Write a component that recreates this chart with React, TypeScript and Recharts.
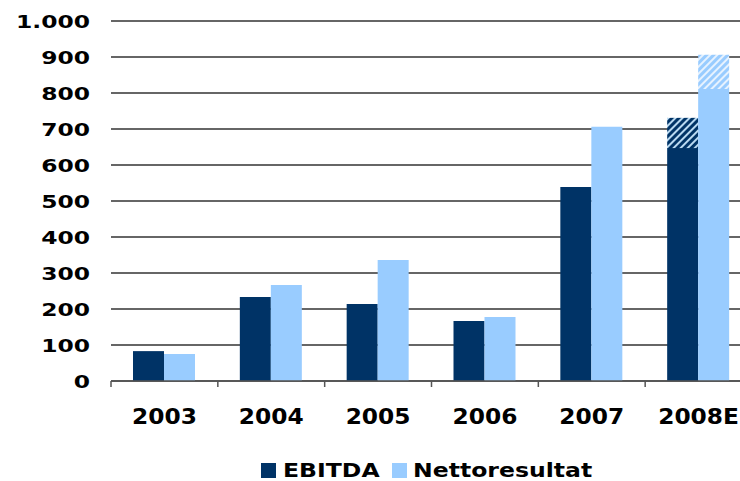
import { BarChart, Bar, XAxis, YAxis, CartesianGrid, Legend } from "recharts";

const years = ["2003", "2004", "2005", "2006", "2007", "2008E"];
const ebitda = [83, 233, 214, 167, 539, 647];
const ebitdaEstimate = [0, 0, 0, 0, 0, 84];
const netto = [75, 267, 336, 178, 706, 811];
const nettoEstimate = [0, 0, 0, 0, 0, 95];
const yTicks = [0, 100, 200, 300, 400, 500, 600, 700, 800, 900, 1000];

const NAVY = "#003366";
const LIGHT = "#99CCFF";
const FONT = "Verdana, 'DejaVu Sans', sans-serif";

const data = years.map((year, i) => ({
  year,
  ebitda: ebitda[i],
  ebitdaEstimate: ebitdaEstimate[i],
  netto: netto[i],
  nettoEstimate: nettoEstimate[i],
}));

const fmt = (v: number) => String(v).replace(/\B(?=(\d{3})+(?!\d))/g, ".");

const YTick = (props: any) => {
  const { x, y, payload } = props;
  return (
    <g transform={`translate(${x - 21},${y}) scale(1.3,1)`}>
      <text x={0} y={6.5} textAnchor="end" fontFamily={FONT} fontWeight="bold" fontSize={18} fill="#000">
        {fmt(payload.value)}
      </text>
    </g>
  );
};

const XTick = (props: any) => {
  const { x, y, payload, index, visibleTicksCount } = props;
  const off = payload.offset || 53;
  const last = index === visibleTicksCount - 1;
  return (
    <g>
      <line x1={x - off} x2={x - off} y1={y} y2={y + 6} stroke="#555" strokeWidth={1.5} />
      {last && <line x1={x + off} x2={x + off} y1={y} y2={y + 6} stroke="#555" strokeWidth={1.5} />}
      <g transform={`translate(${x},${y + 43}) scale(1.06,1)`}>
        <text x={0} y={0} textAnchor="middle" fontFamily={FONT} fontWeight="bold" fontSize={22} fill="#000">
          {payload.value}
        </text>
      </g>
    </g>
  );
};

const LegendBox = () => (
  <div style={{ height: 30 }}>
    <svg width={740} height={30}>
      <rect x={261} y={12} width={15} height={15} fill={NAVY} />
      <g transform="translate(283,26) scale(1.24,1)">
        <text fontFamily={FONT} fontWeight="bold" fontSize={19} fill="#000">EBITDA</text>
      </g>
      <rect x={392} y={12} width={15} height={15} fill={LIGHT} />
      <g transform="translate(413,26) scale(1.24,1)">
        <text fontFamily={FONT} fontWeight="bold" fontSize={19} fill="#000">Nettoresultat</text>
      </g>
    </svg>
  </div>
);

export default function App() {
  return (
    <div style={{ position: "absolute", left: 0, top: 0, width: 740, height: 481, overflow: "hidden", background: "#fff" }}>
      <BarChart
        width={752}
        height={481}
        data={data}
        margin={{ top: 21, right: 0, bottom: 0, left: 0 }}
        barGap={0}
        barSize={31}
      >
        <defs>
          <pattern id="hatchDark" patternUnits="userSpaceOnUse" width={5} height={5} patternTransform="rotate(45)">
            <rect width={5} height={5} fill={NAVY} />
            <rect width={2} height={5} fill="#b8d8f0" />
          </pattern>
          <pattern id="hatchLight" patternUnits="userSpaceOnUse" width={5} height={5} patternTransform="rotate(45)">
            <rect width={5} height={5} fill={LIGHT} />
            <rect width={2} height={5} fill="#e6f2ff" />
          </pattern>
        </defs>
        <CartesianGrid vertical={false} stroke="#333" strokeWidth={1.5} />
        <XAxis
          dataKey="year"
          height={70}
          tickSize={0}
          tickMargin={0}
          tickLine={false}
          axisLine={{ stroke: "#555", strokeWidth: 1.5 }}
          tick={<XTick />}
          interval={0}
        />
        <YAxis
          width={111}
          domain={[0, 1000]}
          ticks={yTicks}
          interval={0}
          tickSize={0}
          tickMargin={0}
          axisLine={false}
          tickLine={false}
          tick={<YTick />}
        />
        <Legend verticalAlign="bottom" height={30} content={<LegendBox />} wrapperStyle={{ left: 0, width: 740 }} />
        <Bar dataKey="ebitda" stackId="a" fill={NAVY} isAnimationActive={false} />
        <Bar dataKey="ebitdaEstimate" stackId="a" fill="url(#hatchDark)" isAnimationActive={false} />
        <Bar dataKey="netto" stackId="b" fill={LIGHT} isAnimationActive={false} />
        <Bar dataKey="nettoEstimate" stackId="b" fill="url(#hatchLight)" isAnimationActive={false} />
      </BarChart>
    </div>
  );
}
